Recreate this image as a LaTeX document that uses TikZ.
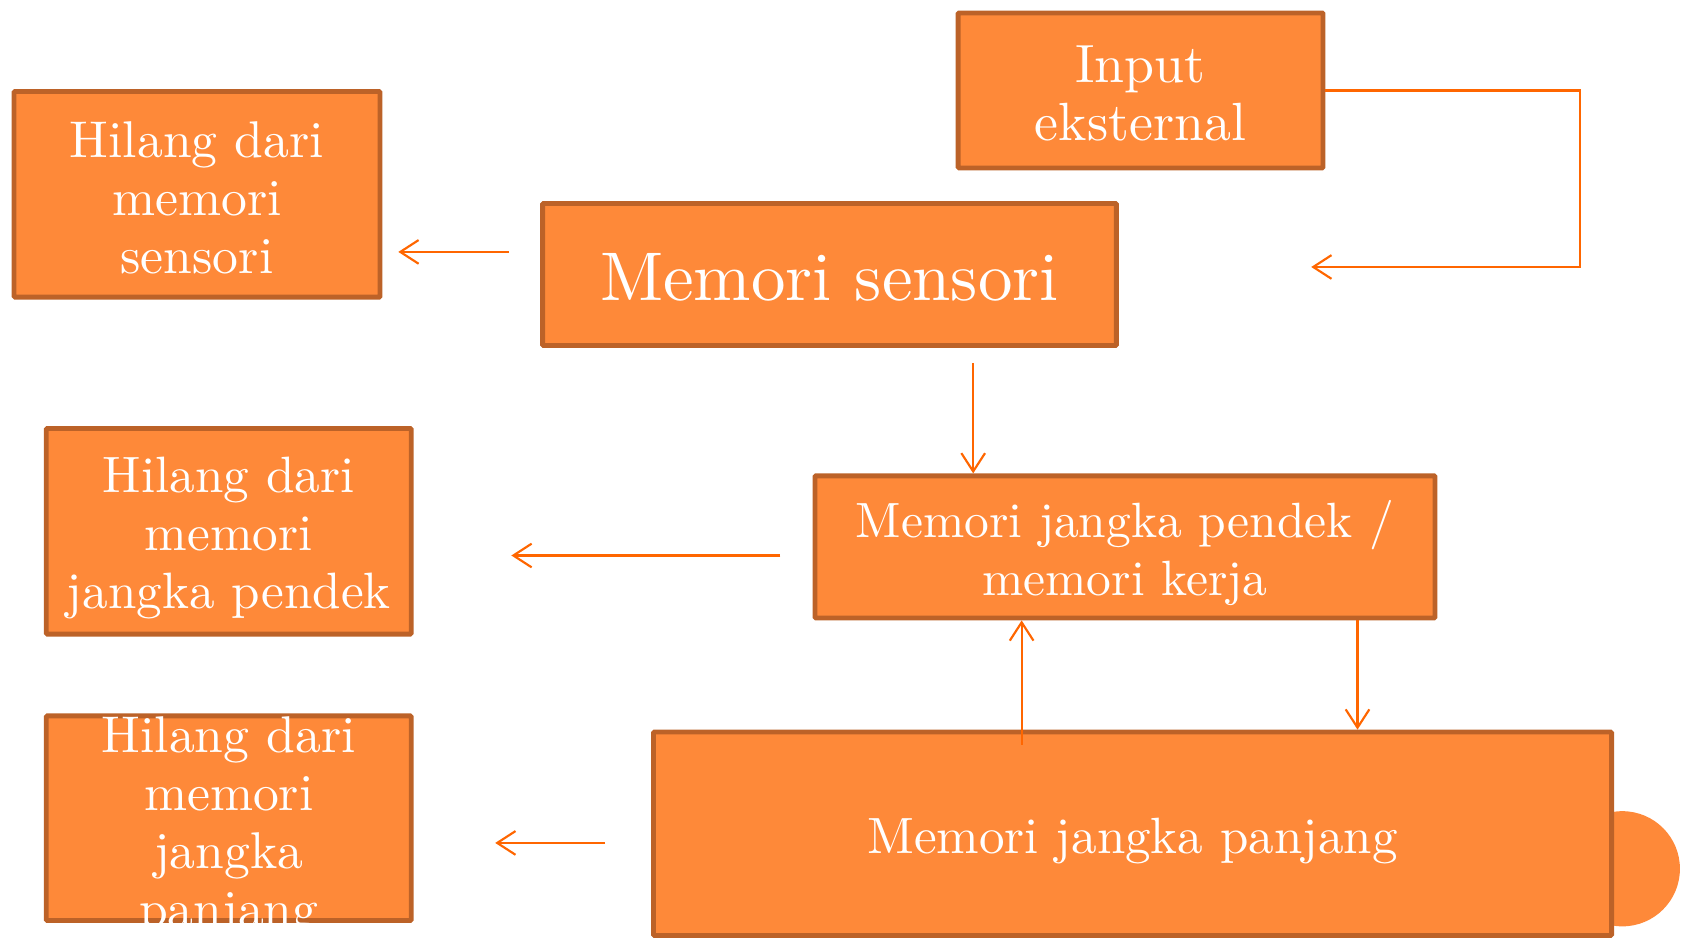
\documentclass[tikz,border=0pt]{standalone}
\usepackage{fontspec}
\setmainfont{lmroman10-regular}[Extension=.otf]
\usetikzlibrary{arrows.meta}
\definecolor{boxfill}{RGB}{254,137,57}
\definecolor{boxline}{RGB}{188,98,40}
\definecolor{flow}{RGB}{255,102,0}
\newcommand{\fs}[1]{\fontsize{#1pt}{54pt}\selectfont}
\tikzset{
  box/.style={draw=boxline, fill=boxfill, line width=4.5pt, rounded corners=1pt, inner sep=0pt},
  txt/.style={text=white, align=center, inner sep=0pt},
  arr/.style={draw=flow, line width=2pt, -{Straight Barb[length=17pt,width=22pt,line width=2pt]}}
}
\begin{document}
\begin{tikzpicture}[x=1pt, y=-1pt]
\useasboundingbox (0,0) rectangle (1568,871);

% decorative disc behind the long-term memory box
\fill[boxfill] (1507,807) circle (53.5pt);

% boxes
\node[box, minimum width=339pt, minimum height=144pt] (inp) at (1059.5,84) {};
\node[box, minimum width=533pt, minimum height=132pt] (ms) at (770.5,255) {};
\node[box, minimum width=340pt, minimum height=191pt] (hs) at (183,180.5) {};
\node[box, minimum width=576pt, minimum height=132pt] (stm) at (1045,508) {};
\node[box, minimum width=339pt, minimum height=191pt] (hstm) at (212.5,493.5) {};
\node[box, minimum width=890pt, minimum height=189pt] (ltm) at (1052,774.5) {};
\node[box, minimum width=339pt, minimum height=190pt] (hltm) at (212.5,760) {};

% box texts
\node[txt, font=\fs{50}] (inpT) at ([yshift=-3pt]inp.center) {Input\\eksternal};
\node[txt, font=\fs{64}] (msT) at ([yshift=-3pt]ms.center) {Memori sensori};
\node[txt, font=\fs{48}] (hsT) at ([yshift=-3pt]hs.center) {Hilang dari\\memori\\sensori};
\node[txt, font=\fs{46}] (stmT) at ([yshift=-6pt]stm.center) {Memori jangka pendek /\\memori kerja};
\node[txt, font=\fs{47.5}] (hstmT) at ([yshift=-6pt]hstm.center) {Hilang dari\\memori\\jangka pendek};
\node[txt, font=\fs{47.4}] (ltmT) at ([yshift=-7pt]ltm.center) {Memori jangka panjang};
\node[txt, font=\fs{48}] (hltmT) at ([yshift=-8pt]hltm.center) {Hilang dari\\memori\\jangka\\panjang};

% free arrow ends
\coordinate (msL) at (473,234);
\coordinate (hsR) at (370,234);
\coordinate (turn) at (1468,248);
\coordinate (inEnd) at (1218,248);
\coordinate (msDrop) at (904,337);
\coordinate (stmL) at (725,516);
\coordinate (hstmR) at (475,516);
\coordinate (upStart) at (949,692);
\coordinate (ltmL) at (562,783);
\coordinate (hltmR) at (460,783);
\coordinate (downX) at (1261,0);

% connectors
\draw[arr] (msL) -- (hsR);
\draw[arr] (inp.east) -| (turn) -- (inEnd);
\draw[arr] (msDrop) -- (msDrop |- stm.north);
\draw[arr] (stmL) -- (hstmR);
\draw[arr] (upStart) -- (upStart |- stm.south);
\draw[arr] (downX |- stm.south) -- (downX |- ltm.north);
\draw[arr] (ltmL) -- (hltmR);
\end{tikzpicture}
\end{document}
